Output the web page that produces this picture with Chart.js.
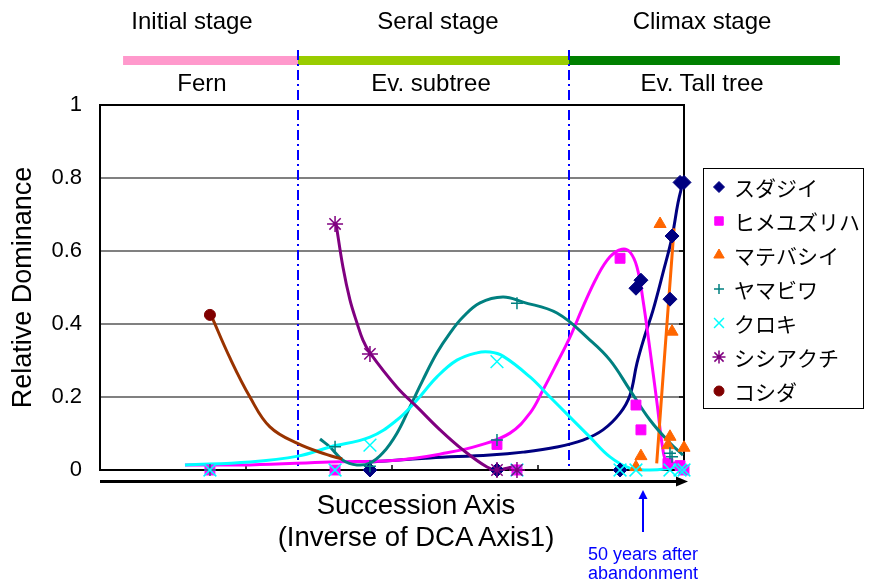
<!DOCTYPE html>
<html>
<head>
<meta charset="utf-8">
<script src="https://cdn.jsdelivr.net/npm/chart.js@4.4.1/dist/chart.umd.min.js"></script>
<style>
  html, body { margin: 0; padding: 0; background: #fff; }
  #wrap { position: relative; width: 869px; height: 585px; overflow: hidden; }
  #c { position: absolute; left: 0; top: 0; }
  .lbl { position: absolute; font-family: "Liberation Sans", Arial, sans-serif; color: #000;
         white-space: nowrap; line-height: 1; transform: translateX(-50%); }
  .stage { font-size: 24px; }
  .xt { font-size: 27.5px; }
  .note { font-size: 18px; color: #0000ff; }
</style>
</head>
<body>
<div id="wrap">
  <canvas id="c" width="869" height="585"></canvas>
  <div class="lbl stage" style="left:192px; top:9px;">Initial stage</div>
  <div class="lbl stage" style="left:438px; top:9px;">Seral stage</div>
  <div class="lbl stage" style="left:702px; top:9px;">Climax stage</div>
  <div class="lbl stage" style="left:202px; top:71px;">Fern</div>
  <div class="lbl stage" style="left:431px; top:71px;">Ev. subtree</div>
  <div class="lbl stage" style="left:702px; top:71px;">Ev. Tall tree</div>
  <div class="lbl xt" style="left:416px; top:491px;">Succession Axis</div>
  <div class="lbl xt" style="left:416px; top:523px;">(Inverse of DCA Axis1)</div>
  <div class="lbl note" style="left:643px; top:545px;">50 years after</div>
  <div class="lbl note" style="left:643px; top:564px;">abandonment</div>
</div>
<script>
// ---- Stage boundaries along the succession axis ----
const stageBounds = [0.158, 1.356, 3.212, 5.068];
const stageColors = ['#ff99cc', '#99cc00', '#008000'];
const markYear50 = 3.719;   // plot position of the 50-year site

// ---- Plot positions of the survey plots on the succession axis ----
const siteX = [0.753, 1.610, 1.849, 2.719, 2.856, 3.562, 3.671, 3.705, 3.836, 3.890, 3.904, 3.918, 3.973, 4.000];

// ---- Relative dominance per species at each plot (null = not recorded) ----
const sudajii     = [null, null, 0, 0, null, 0, 0.498, 0.520, null, null, 0.468, 0.641, 0.788, 0.788];
const himeyuzuriha= [0, 0, null, 0.070, 0, 0.580, 0.178, 0.110, null, 0.018, null, null, 0.012, 0];
const matebashii  = [null, null, null, null, null, null, 0.008, 0.038, 0.674, 0.068, 0.091, 0.379, null, 0.061];
const yamabiwa    = [0, 0.064, 0.010, 0.082, 0.457, null, null, null, null, null, 0.046, 0.036, null, null];
const kuroki      = [0, 0, 0.068, 0.297, 0, 0, 0, null, null, null, 0, null, 0, 0];
const shishiakuchi= [null, 0.674, 0.318, 0, 0, null, null, null, null, null, null, null, null, null];
const koshida     = [0.425, null, null, null, null, null, null, null, null, null, null, null, null, null];

// ---- Smoothed trend curves (axis position, dominance) ----
const sudajiiCurveX = [1.849, 2.260, 2.671, 2.897, 3.130, 3.308, 3.445, 3.562, 3.630, 3.678, 3.733, 3.788, 3.856, 3.918, 3.959, 3.993];
const sudajiiCurveY = [0.022, 0.033, 0.041, 0.049, 0.063, 0.082, 0.110, 0.156, 0.205, 0.293, 0.370, 0.438, 0.540, 0.638, 0.732, 0.789];
const himeCurveX = [0.582, 1.027, 1.575, 2.034, 2.377, 2.603, 2.808, 2.945, 3.034, 3.130, 3.219, 3.308, 3.404, 3.493, 3.575, 3.630, 3.678, 3.719, 3.767, 3.815, 3.856, 3.884, 3.952, 3.986];
const himeCurveY = [0.014, 0.014, 0.022, 0.027, 0.047, 0.068, 0.101, 0.156, 0.219, 0.293, 0.364, 0.447, 0.529, 0.584, 0.605, 0.597, 0.556, 0.466, 0.329, 0.184, 0.055, 0.022, 0.019, 0.019];
const mateCurveX = [3.813, 3.872, 3.932];
const mateCurveY = [0.018, 0.340, 0.662];
const yamaCurveX = [1.507, 1.575, 1.664, 1.760, 1.849, 1.938, 2.034, 2.123, 2.212, 2.308, 2.397, 2.486, 2.603, 2.760, 2.897, 3.130, 3.356, 3.493, 3.630, 3.767, 3.904, 3.993];
const yamaCurveY = [0.085, 0.063, 0.027, 0.014, 0.019, 0.047, 0.101, 0.173, 0.247, 0.321, 0.375, 0.419, 0.458, 0.474, 0.460, 0.430, 0.356, 0.301, 0.219, 0.137, 0.074, 0.041];
const kurokiCurveX = [0.582, 1.027, 1.356, 1.575, 1.849, 2.034, 2.171, 2.308, 2.445, 2.582, 2.671, 2.760, 2.945, 3.082, 3.219, 3.356, 3.493, 3.630, 3.767, 3.904, 3.973];
const kurokiCurveY = [0.014, 0.022, 0.038, 0.063, 0.090, 0.137, 0.192, 0.255, 0.301, 0.321, 0.323, 0.312, 0.255, 0.200, 0.145, 0.090, 0.036, 0.005, 0.000, 0.005, 0.011];
const shishiCurveX = [1.616, 1.664, 1.712, 1.760, 1.801, 1.849, 2.034, 2.171, 2.329, 2.486, 2.651, 2.719, 2.788, 2.856];
const shishiCurveY = [0.677, 0.556, 0.466, 0.403, 0.356, 0.321, 0.227, 0.173, 0.110, 0.055, 0.008, 0.000, 0.005, 0.011];
const koshidaCurveX = [0.760, 0.890, 1.027, 1.164, 1.356, 1.555, 1.658];
const koshidaCurveY = [0.425, 0.307, 0.200, 0.118, 0.072, 0.042, 0.030];

const FONT = '"Liberation Sans", Arial, sans-serif';
const JFONT = '"Noto Sans CJK JP", sans-serif';

const species = [
  { name: 'スダジイ',     vals: sudajii,      cx: sudajiiCurveX, cy: sudajiiCurveY, line: '#000080', fill: '#000080', style: 'rectRot',  r: 7,   lr: 5.5, bw: 1 },
  { name: 'ヒメユズリハ', vals: himeyuzuriha, cx: himeCurveX,    cy: himeCurveY,    line: '#ff00ff', fill: '#ff00ff', style: 'rect',     r: 7,   lr: 6,   bw: 1 },
  { name: 'マテバシイ',   vals: matebashii,   cx: mateCurveX,    cy: mateCurveY,    line: '#ff6600', fill: '#ff6600', style: 'triangle', r: 7,   lr: 6,   bw: 1 },
  { name: 'ヤマビワ',     vals: yamabiwa,     cx: yamaCurveX,    cy: yamaCurveY,    line: '#008080', fill: '#008080', style: 'cross',    r: 6,   lr: 5,   bw: 1.5 },
  { name: 'クロキ',       vals: kuroki,       cx: kurokiCurveX,  cy: kurokiCurveY,  line: '#00ffff', fill: '#00ffff', style: 'crossRot', r: 9,   lr: 7,   bw: 1.5 },
  { name: 'シシアクチ',   vals: shishiakuchi, cx: shishiCurveX,  cy: shishiCurveY,  line: '#800080', fill: '#800080', style: 'star',     r: 8,   lr: 6.5, bw: 1.5 },
  { name: 'コシダ',       vals: koshida,      cx: koshidaCurveX, cy: koshidaCurveY, line: '#993300', fill: '#800000', style: 'circle',   r: 5.5, lr: 5,   bw: 1 }
];

// later species sit on top of earlier ones; markers sit above the curves
const markerSets = species.map((s, i) => ({
  label: s.name,
  order: 20 - i,
  data: siteX.map((x, k) => s.vals[k] == null ? null : { x: x, y: s.vals[k] }).filter(p => p),
  showLine: false,
  pointStyle: s.style,
  pointRadius: s.r,
  pointBackgroundColor: s.fill,
  pointBorderColor: s.fill,
  pointBorderWidth: s.bw,
  clip: false
}));

const curveSets = species.map((s, i) => ({
  label: s.name + ' curve',
  order: 40 - i,
  data: s.cx.map((x, k) => ({ x: x, y: s.cy[k] })),
  showLine: true,
  pointRadius: 0,
  borderColor: s.line,
  borderWidth: 3,
  tension: 0.4,
  clip: false
}));

function arrowHead(ctx, tipX, tipY, dx, dy, len, half) {
  const bx = tipX - dx * len, by = tipY - dy * len;
  ctx.beginPath();
  ctx.moveTo(tipX, tipY);
  ctx.lineTo(bx - dy * half, by + dx * half);
  ctx.lineTo(bx + dy * half, by - dx * half);
  ctx.closePath();
  ctx.fill();
}

const decor = {
  id: 'decor',
  beforeDatasetsDraw(chart) {
    const { ctx, chartArea: a, scales: { x, y } } = chart;
    ctx.save();
    // stage bars above the plot
    for (let i = 0; i < stageColors.length; i++) {
      const x0 = x.getPixelForValue(stageBounds[i]);
      const x1 = x.getPixelForValue(stageBounds[i + 1]);
      ctx.fillStyle = stageColors[i];
      ctx.fillRect(x0, 56, x1 - x0, 9);
    }
    // dash-dot stage boundaries
    ctx.strokeStyle = '#0000ff';
    ctx.lineWidth = 2;
    ctx.setLineDash([10, 4, 2, 4]);
    for (const b of stageBounds.slice(1, -1)) {
      const px = Math.round(x.getPixelForValue(b));
      ctx.beginPath();
      ctx.moveTo(px, 50);
      ctx.lineTo(px, a.bottom - 1);
      ctx.stroke();
    }
    ctx.setLineDash([]);
    // frame: top and right edges
    ctx.strokeStyle = '#000';
    ctx.lineWidth = 2;
    ctx.beginPath();
    ctx.moveTo(a.left, a.top);
    ctx.lineTo(a.right, a.top);
    ctx.lineTo(a.right, a.bottom);
    ctx.stroke();
    // inner tick marks
    ctx.lineWidth = 1.5;
    ctx.beginPath();
    for (let v = 0.2; v < 1; v += 0.2) {
      const py = y.getPixelForValue(v);
      ctx.moveTo(a.right - 5, py);
      ctx.lineTo(a.right, py);
    }
    for (let v = 1; v < 4; v++) {
      const px = x.getPixelForValue(v);
      ctx.moveTo(px, a.bottom);
      ctx.lineTo(px, a.bottom - 5);
    }
    ctx.stroke();
    ctx.restore();
  },
  afterDraw(chart) {
    const { ctx, chartArea: a, scales: { x } } = chart;
    ctx.save();
    // succession arrow under the axis
    const ay = a.bottom + 11.5;
    ctx.strokeStyle = '#000';
    ctx.fillStyle = '#000';
    ctx.lineWidth = 3;
    ctx.beginPath();
    ctx.moveTo(a.left, ay);
    ctx.lineTo(a.right - 4, ay);
    ctx.stroke();
    arrowHead(ctx, a.right + 4, ay, 1, 0, 12, 5);
    // 50-year pointer
    const px = x.getPixelForValue(markYear50);
    ctx.strokeStyle = '#0000ff';
    ctx.fillStyle = '#0000ff';
    ctx.lineWidth = 2;
    ctx.beginPath();
    ctx.moveTo(px, 532);
    ctx.lineTo(px, 496);
    ctx.stroke();
    arrowHead(ctx, px, 490, 0, -1, 9, 4.5);
    // legend box
    const lx = a.right + 19, ly = 168, lw = 160, lh = 240;
    ctx.strokeStyle = '#000';
    ctx.lineWidth = 1;
    ctx.strokeRect(lx + 0.5, ly + 0.5, lw, lh);
    ctx.font = '21px ' + JFONT;
    ctx.textBaseline = 'middle';
    ctx.textAlign = 'left';
    species.forEach((s, i) => {
      const ry = ly + 19 + i * 34;
      ctx.fillStyle = s.fill;
      ctx.strokeStyle = s.fill;
      ctx.lineWidth = s.bw;
      Chart.helpers.drawPoint(ctx, { pointStyle: s.style, radius: s.lr, borderWidth: s.bw, rotation: 0 }, lx + 16, ry);
      ctx.fillStyle = '#000';
      ctx.fillText(s.name, lx + 31, ry + 1);
    });
    ctx.restore();
  }
};

new Chart(document.getElementById('c'), {
  type: 'scatter',
  data: { datasets: [...markerSets, ...curveSets] },
  options: {
    responsive: false,
    animation: false,
    events: [],
    layout: { padding: { left: 0, right: 185, top: 105, bottom: 115 } },
    plugins: { legend: { display: false }, tooltip: { enabled: false } },
    scales: {
      x: {
        type: 'linear', min: 0, max: 4,
        ticks: { display: false },
        grid: { display: false },
        border: { display: true, color: '#000', width: 2 },
        afterFit(s) { s.height = 0; s.paddingLeft = 0; s.paddingRight = 0; }
      },
      y: {
        type: 'linear', min: 0, max: 1,
        ticks: {
          stepSize: 0.2, color: '#000', padding: 18, font: { family: FONT, size: 22 },
          callback: v => String(Math.round(v * 10) / 10)
        },
        grid: {
          drawTicks: false,
          lineWidth: 2,
          color: c => (c.tick && c.tick.value > 0.01 && c.tick.value < 0.99) ? '#808080' : 'rgba(0,0,0,0)'
        },
        border: { display: true, color: '#000', width: 2 },
        title: { display: true, text: 'Relative Dominance', color: '#000', font: { family: FONT, size: 27 }, padding: { top: 7 } },
        afterFit(s) { s.width = 100; s.paddingTop = 0; s.paddingBottom = 0; }
      }
    }
  },
  plugins: [decor]
});
</script>
</body>
</html>
